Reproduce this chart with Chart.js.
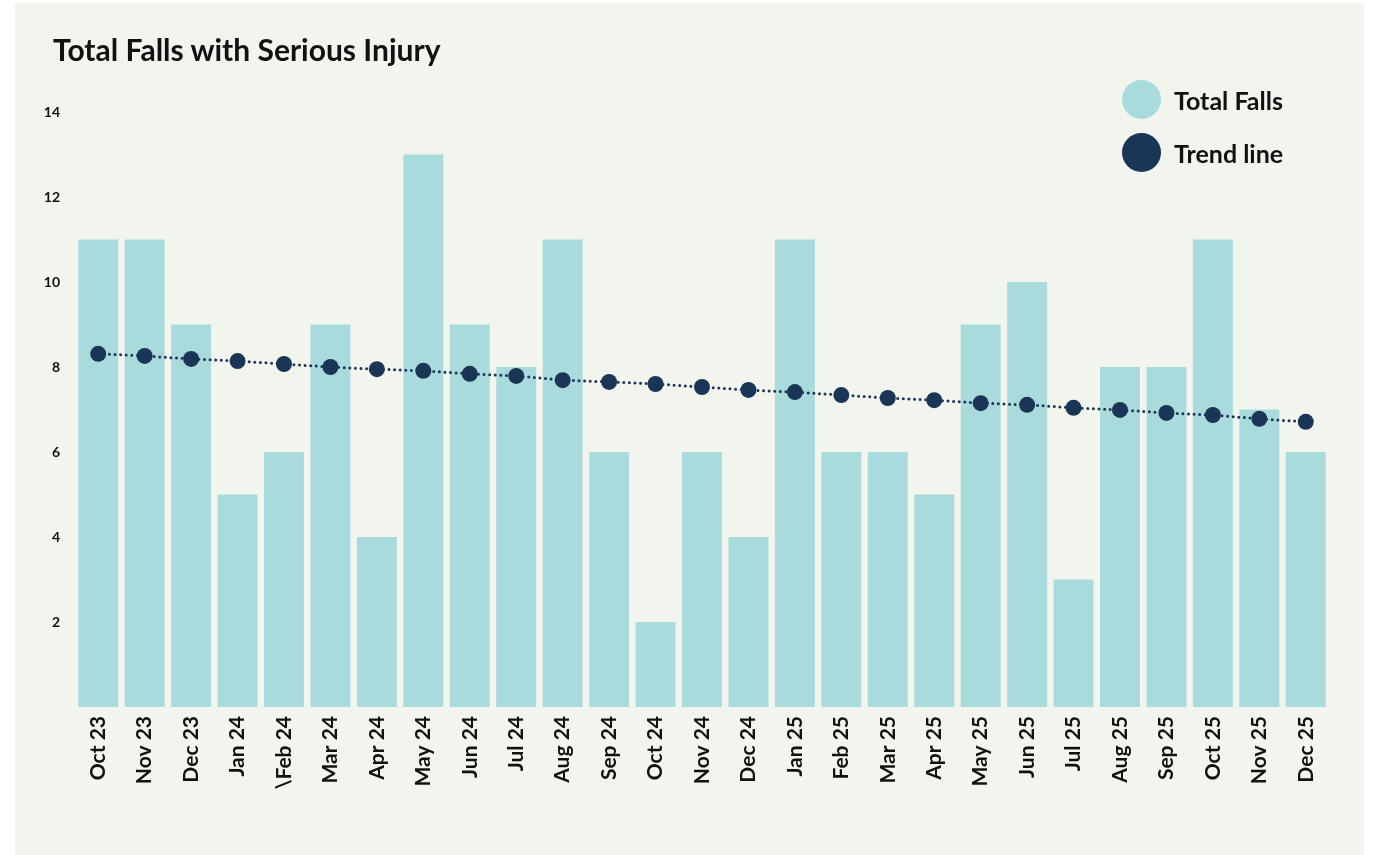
<!DOCTYPE html>
<html>
<head>
<meta charset="utf-8">
<script src="https://cdn.jsdelivr.net/npm/chart.js@4.4.1/dist/chart.umd.min.js"></script>
<style>
  html, body { margin: 0; padding: 0; background: #ffffff; width: 1373px; height: 855px; overflow: hidden; }
  #panel { position: absolute; left: 15px; top: 3px; width: 1349px; height: 852px; background: #f2f4ee; }
  #wrap { position: absolute; left: 0; top: 0; width: 1373px; height: 855px; }
  #title { position: absolute; left: 53px; top: 31px; font-family: Lato, sans-serif; font-weight: 700; font-size: 30px; color: #111; white-space: nowrap; }
  #legend { position: absolute; left: 1122px; top: 80px; font-family: Lato, sans-serif; font-weight: 700; font-size: 25px; color: #111; }
  .item { display: flex; align-items: center; height: 39px; margin-bottom: 14px; }
  .dot { width: 39px; height: 39px; border-radius: 50%; margin-right: 13px; }
</style>
</head>
<body>
<div id="panel"></div>
<div id="wrap"><canvas id="c" width="1373" height="855"></canvas></div>
<div id="title">Total Falls with Serious Injury</div>
<div id="legend"></div>
<script>
const categories = ["Oct 23","Nov 23","Dec 23","Jan 24","\\Feb 24","Mar 24","Apr 24","May 24","Jun 24","Jul 24","Aug 24","Sep 24","Oct 24","Nov 24","Dec 24","Jan 25","Feb 25","Mar 25","Apr 25","May 25","Jun 25","Jul 25","Aug 25","Sep 25","Oct 25","Nov 25","Dec 25"];
const totalFalls = [11,11,9,5,6,9,4,13,9,8,11,6,2,6,4,11,6,6,5,9,10,3,8,8,11,7,6];
const trendLine = [8.31,8.26,8.19,8.14,8.07,8.00,7.95,7.91,7.84,7.79,7.69,7.65,7.60,7.53,7.46,7.41,7.34,7.27,7.22,7.15,7.11,7.04,6.99,6.92,6.87,6.78,6.71];
const yTicks = [2,4,6,8,10,12,14];
const seriesNames = ["Total Falls","Trend line"];
const colors = ["#a9dbdd","#1b3556"];

const legend = document.getElementById('legend');
seriesNames.forEach((n,i)=>{
  const d = document.createElement('div'); d.className='item';
  d.innerHTML = '<span class="dot" style="background:'+colors[i]+'"></span><span>'+n+'</span>';
  legend.appendChild(d);
});

new Chart(document.getElementById('c'), {
  data: {
    labels: categories,
    datasets: [
      { type: 'line', label: seriesNames[1], data: trendLine, order: 0,
        borderColor: colors[1], backgroundColor: colors[1], borderWidth: 3,
        borderDash: [0, 5.6], borderCapStyle: 'round', pointRadius: 8, pointHoverRadius: 8,
        pointBackgroundColor: colors[1], pointBorderWidth: 0, tension: 0, fill: false },
      { type: 'bar', label: seriesNames[0], data: totalFalls, order: 1,
        backgroundColor: colors[0], borderWidth: 0, categoryPercentage: 1, barPercentage: 0.86 }
    ]
  },
  options: {
    responsive: false, animation: false, maintainAspectRatio: false,
    layout: { padding: { left: 15, right: 44, top: 112, bottom: 0 } },
    plugins: { legend: { display: false }, title: { display: false }, tooltip: { enabled: false } },
    scales: {
      x: {
        grid: { display: false, drawTicks: false }, border: { display: false },
        ticks: { minRotation: 90, maxRotation: 90, padding: 9, color: '#111',
          font: { family: 'Lato', weight: 'bold', size: 21 } },
        afterFit: (s) => { s.height = 148; }
      },
      y: {
        min: 0, max: 14,
        grid: { display: false, drawTicks: false }, border: { display: false },
        afterBuildTicks: (s) => { s.ticks = yTicks.map(v => ({ value: v })); },
        ticks: { padding: 15, color: '#111', font: { family: 'Lato', weight: 'bold', size: 14 } },
        afterFit: (s) => { s.width = 60; }
      }
    }
  }
});
</script>
</body>
</html>
